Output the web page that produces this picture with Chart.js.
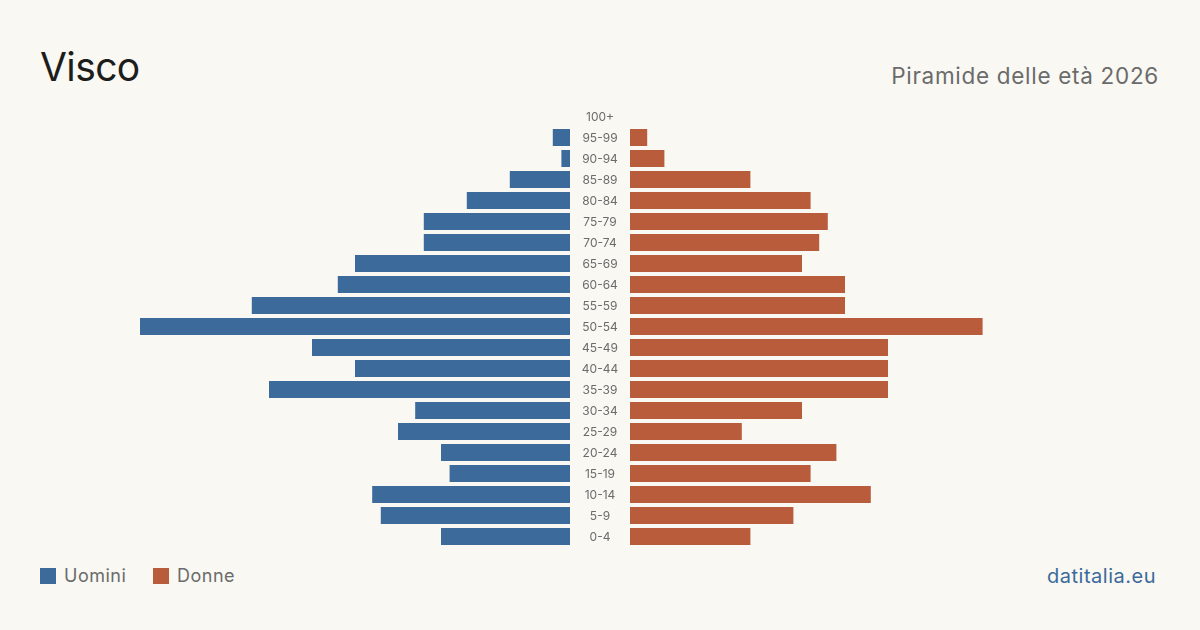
<!DOCTYPE html>
<html>
<head>
<meta charset="utf-8">
<script src="https://cdn.jsdelivr.net/npm/chart.js@4"></script>
<style>
  html, body { margin: 0; padding: 0; }
  body { width: 1200px; height: 630px; background: #f9f8f3; position: relative; overflow: hidden; font-family: Inter, "Noto Sans", sans-serif; }
  #title { position: absolute; left: 40px; top: 41px; font-size: 39px; color: #1d1d1b; line-height: 52px; letter-spacing: -0.6px; }
  #subtitle { position: absolute; right: 41px; top: 61px; font-size: 22.5px; color: #6b6b6b; line-height: 30px; letter-spacing: 0.7px; }
  #left { position: absolute; left: 140px; top: 101px; width: 430px; height: 452px; }
  #right { position: absolute; left: 570px; top: 101px; width: 490px; height: 452px; }
  .legend { position: absolute; top: 564px; font-size: 18px; color: #6b6b6b; line-height: 24px; display: flex; align-items: center; letter-spacing: 0.5px; }
  .sw { width: 16px; height: 16px; margin-right: 8px; display: inline-block; }
  #brand { position: absolute; right: 44px; top: 563px; font-size: 20px; color: #3b6a9b; line-height: 26px; letter-spacing: 0.5px; }
</style>
</head>
<body>
<div id="title">Visco</div>
<div id="subtitle">Piramide delle età 2026</div>
<div id="left"><canvas id="leftChart"></canvas></div>
<div id="right"><canvas id="rightChart"></canvas></div>
<div class="legend" style="left:40px"><span class="sw" style="background:#3b6a9b"></span>Uomini</div>
<div class="legend" style="left:153px"><span class="sw" style="background:#b95c3c"></span>Donne</div>
<div id="brand">datitalia.eu</div>

<script>
// age classes, oldest on top
const ageGroups = ["100+", "95-99", "90-94", "85-89", "80-84", "75-79", "70-74", "65-69", "60-64", "55-59",
  "50-54", "45-49", "40-44", "35-39", "30-34", "25-29", "20-24", "15-19", "10-14", "5-9", "0-4"];
const uomini = [0, 2, 1, 7, 12, 17, 17, 25, 27, 37, 50, 30, 25, 35, 18, 20, 15, 14, 23, 22, 15];
const donne = [0, 2, 4, 14, 21, 23, 22, 20, 25, 25, 41, 30, 30, 30, 20, 13, 24, 21, 28, 19, 14];
const maxValue = 50;

const blue = "#3b6a9b";
const orange = "#b95c3c";

Chart.defaults.font.family = "Inter, 'Noto Sans', sans-serif";
Chart.defaults.animation = false;

function baseOptions(reverse, leftPad) {
  return {
    indexAxis: 'y',
    responsive: true,
    maintainAspectRatio: false,
    layout: { padding: { top: 5, bottom: 6, left: leftPad, right: 0 } },
    plugins: { legend: { display: false }, tooltip: { enabled: false } },
    scales: {
      x: { min: 0, max: maxValue, reverse: reverse, display: false },
      y: { display: false, grid: { display: false } }
    }
  };
}

// age labels centred in the gap between the two halves
const centreLabels = {
  id: 'centreLabels',
  afterDraw(chart) {
    const ctx = chart.ctx;
    const y = chart.scales.y;
    const cx = chart.chartArea.left - 30;
    ctx.save();
    ctx.fillStyle = "#6b6b6b";
    ctx.font = "12px Inter, 'Noto Sans', sans-serif";
    ctx.textAlign = "center";
    ctx.textBaseline = "middle";
    chart.data.labels.forEach((lab, i) => {
      ctx.fillText(lab, cx, y.getPixelForValue(i) + 0.5);
    });
    ctx.restore();
  }
};

// Uomini, growing leftward
new Chart(document.getElementById("leftChart"), {
  type: 'bar',
  data: {
    labels: ageGroups,
    datasets: [{ label: "Uomini", data: uomini, backgroundColor: blue, barPercentage: 0.81, categoryPercentage: 1 }]
  },
  options: baseOptions(true, 0)
});

// Donne, growing rightward
new Chart(document.getElementById("rightChart"), {
  type: 'bar',
  data: {
    labels: ageGroups,
    datasets: [{ label: "Donne", data: donne, backgroundColor: orange, barPercentage: 0.81, categoryPercentage: 1 }]
  },
  options: baseOptions(false, 60),
  plugins: [centreLabels]
});
</script>
</body>
</html>
